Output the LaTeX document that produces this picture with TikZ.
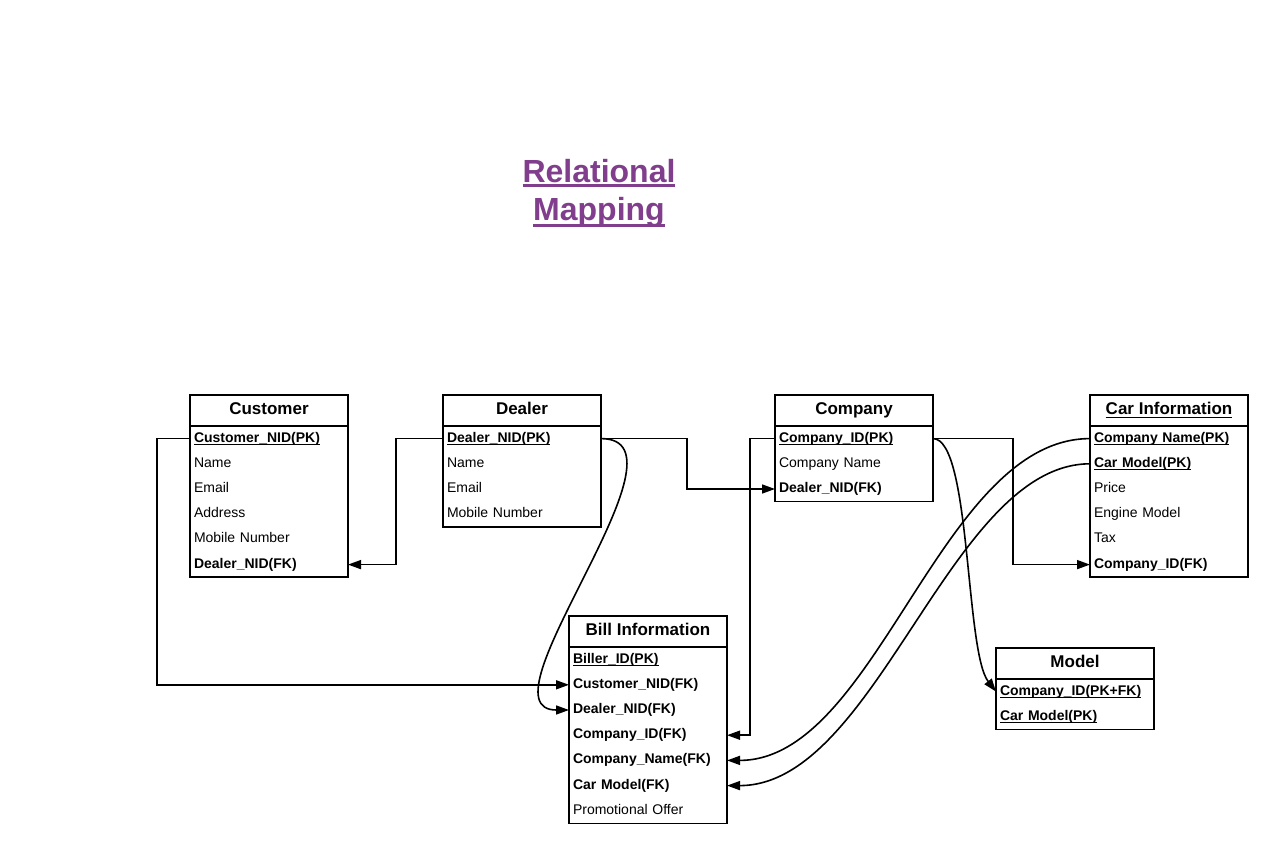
\documentclass[tikz,border=0pt]{standalone}
\usepackage{fontspec}
\setmainfont{Liberation Sans}
\usetikzlibrary{arrows.meta}
\definecolor{ttl}{RGB}{128,62,140}
\newcommand\myul[3]{\setbox0\hbox{#3}\rlap{\rule[-#1]{\wd0}{#2}}\box0}
\newcommand\pk[1]{\myul{3pt}{1.2pt}{\textbf{#1}}}
\newcommand\fk[1]{\textbf{#1}}
\tikzset{
 hdr/.style={draw, line width=1.7pt, minimum width=158pt, minimum height=31pt, inner sep=0pt, outer sep=0pt, font=\bfseries\fontsize{17}{20}\selectfont, text height=12.5pt, text depth=4pt},
 row/.style={minimum width=158pt, text width=150pt, inner xsep=4pt, inner ysep=0pt, outer sep=0pt, minimum height=25.2pt, align=left, font=\fontsize{14}{16}\selectfont, text height=10.5pt, text depth=3.5pt},
 box/.style={line width=1.7pt},
 conn/.style={line width=1.6pt, -{Triangle[length=13pt,width=9pt]}},
}
\newcommand\enttab[6]{%
 \node[hdr, anchor=north west] (#1) at (#2,-#3) {#4};
 \foreach \rw [count=\i] in {#5}{\node[row, anchor=north west] (#1-\i) at (#2,{-#3-31-25.2*(\i-1)}) {\rw};}
 \draw[box] (#1.north west) rectangle (#1-#6.south east);}
\begin{document}
\begin{tikzpicture}[x=1pt,y=1pt]
\useasboundingbox[fill=white] (0,0) rectangle (1280,-856);
\node[font=\bfseries\fontsize{32}{38}\selectfont, text=ttl, align=center] (title) at (599,-193) {\myul{5pt}{2.8pt}{Relational}\\\myul{7pt}{2.8pt}{Mapping}};
\enttab{cust}{190}{395}{Customer}{\pk{Customer\_NID(PK)},Name,Email,Address,Mobile Number,\fk{Dealer\_NID(FK)}}{6}
\enttab{deal}{443}{395}{Dealer}{\pk{Dealer\_NID(PK)},Name,Email,Mobile Number}{4}
\enttab{comp}{775}{395}{Company}{\pk{Company\_ID(PK)},Company Name,\fk{Dealer\_NID(FK)}}{3}
\enttab{car}{1090}{395}{\myul{3.5pt}{1.4pt}{Car Information}}{\pk{Company Name(PK)},\pk{Car Model(PK)},Price,Engine Model,Tax,\fk{Company\_ID(FK)}}{6}
\enttab{bill}{569}{616}{Bill Information}{\pk{Biller\_ID(PK)},\fk{Customer\_NID(FK)},\fk{Dealer\_NID(FK)},\fk{Company\_ID(FK)},\fk{Company\_Name(FK)},\fk{Car Model(FK)},Promotional Offer}{7}
\enttab{model}{996}{648}{Model}{\pk{Company\_ID(PK+FK)},\pk{Car Model(PK)}}{2}
\draw[conn] (cust-1.west) -- ++(-33,0) |- (bill-2.west);
\draw[conn] (deal-1.west) -- ++(-47,0) |- (cust-6.east);
\draw[conn] (deal-1.east) -- ++(86,0) |- (comp-3.west);
\draw[conn] (deal-1.east) .. controls +(100,0) and +(-95,0) .. (bill-3.west);
\draw[conn] (comp-1.west) -- ++(-25,0) |- (bill-4.east);
\draw[conn] (comp-1.east) -- ++(80,0) |- (car-6.west);
\draw[conn] (comp-1.east) .. controls +(38,0) and +(-31,40) .. (model-1.west);
\draw[conn] (car-1.west) .. controls +(-150,0) and +(150,0) .. (bill-5.east);
\draw[conn] (car-2.west) .. controls +(-140,0) and +(150,0) .. (bill-6.east);
\end{tikzpicture}
\end{document}
